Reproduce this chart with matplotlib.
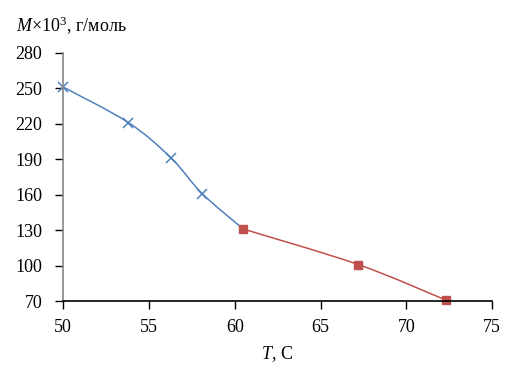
import matplotlib
matplotlib.use('Agg')
import matplotlib.pyplot as plt
from matplotlib.path import Path
from matplotlib.patches import PathPatch

# data
t_blue = [50.0, 53.8, 56.3, 58.1, 60.5]
m_blue = [251, 221, 191, 161, 131]
t_red = [60.5, 67.2, 72.3]
m_red = [131, 101, 71]

x_ticks = [50, 55, 60, 65, 70, 75]
y_ticks = [70, 100, 130, 160, 190, 220, 250, 280]

plt.rcParams['font.family'] = ['Liberation Serif', 'DejaVu Serif']
plt.rcParams['mathtext.fontset'] = 'custom'
plt.rcParams['mathtext.rm'] = 'Liberation Serif'
plt.rcParams['mathtext.it'] = 'Liberation Serif:italic'


def smooth_path(xs, ys):
    # Excel-like smoothed line: cubic Bezier segments through the points
    pts = list(zip(xs, ys))
    n = len(pts)
    verts = [pts[0]]
    codes = [Path.MOVETO]
    for i in range(n - 1):
        p0 = pts[i - 1] if i > 0 else pts[i]
        p1 = pts[i]
        p2 = pts[i + 1]
        p3 = pts[i + 2] if i + 2 < n else pts[i + 1]
        c1 = (p1[0] + (p2[0] - p0[0]) / 6, p1[1] + (p2[1] - p0[1]) / 6)
        c2 = (p2[0] - (p3[0] - p1[0]) / 6, p2[1] - (p3[1] - p1[1]) / 6)
        verts += [c1, c2, p2]
        codes += [Path.CURVE4] * 3
    return Path(verts, codes)


fig = plt.figure(figsize=(5.17, 3.71), dpi=100)
ax = fig.add_axes([0.122, 0.188, 0.830, 0.670])

blue = '#4F81BD'
red = '#C0504D'

ax.add_patch(PathPatch(smooth_path(t_blue, m_blue), fill=False, edgecolor=blue, lw=1.1))
ax.add_patch(PathPatch(smooth_path(t_red, m_red), fill=False, edgecolor=red, lw=1.1))
ax.plot(t_blue[:-1], m_blue[:-1], ls='none', marker='x', ms=7, mew=1.1, color=blue, clip_on=False)
ax.plot(t_red, m_red, ls='none', marker='s', ms=5.5, color=red, clip_on=False)

ax.set_xlim(50, 75)
ax.set_ylim(70, 280)
ax.set_xticks(x_ticks)
ax.set_yticks(y_ticks)
ax.tick_params(labelsize=13, length=6, width=1, direction='out')
ax.tick_params(axis='x', pad=7)
ax.tick_params(axis='y', pad=9)
for s in ['top', 'right']:
    ax.spines[s].set_visible(False)
ax.spines['left'].set_color('#868686')
ax.spines['left'].set_linewidth(1.2)
ax.spines['bottom'].set_color('black')
ax.spines['bottom'].set_linewidth(1.2)

fig.text(0.03, 0.93, r'$M$×10$^3$, г/моль', fontsize=13, ha='left', va='center')
fig.text(0.535, 0.045, r'$T$, C', fontsize=13, ha='center', va='center')

fig.savefig('out.png', dpi=100)
